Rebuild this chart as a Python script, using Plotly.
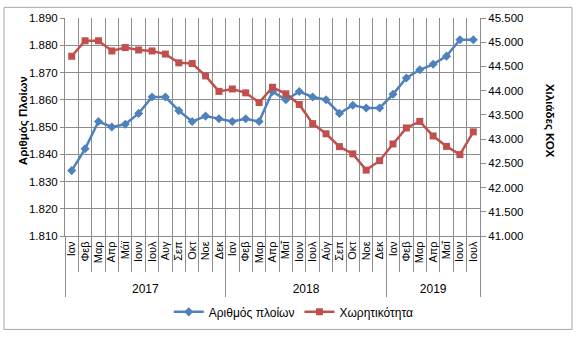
import plotly.graph_objects as go

# Monthly series, Jan 2017 - Jul 2019
months = ["Ιαν", "Φεβ", "Μαρ", "Απρ", "Μάι", "Ιουν", "Ιουλ", "Αυγ", "Σεπ", "Οκτ", "Νοε", "Δεκ",
          "Ιαν", "Φεβ", "Μαρ", "Απρ", "Μαΐ", "Ιουν", "Ιουλ", "Αύγ", "Σεπ", "Οκτ", "Νοε", "Δεκ",
          "Ιαν", "Φεβ", "Μαρ", "Απρ", "Μαΐ", "Ιουν", "Ιουλ"]
months[4] = "Μάϊ"
years = ["2017", "2018", "2019"]
months_per_year = [12, 12, 7]

ships = [1834, 1842, 1852, 1850, 1851, 1855, 1861, 1861, 1856, 1852, 1854, 1853,
         1852, 1853, 1852, 1863, 1860, 1863, 1861, 1860, 1855, 1858, 1857, 1857,
         1862, 1868, 1871, 1873, 1876, 1882, 1882]

capacity = [44710, 45030, 45030, 44820, 44890, 44840, 44820, 44755, 44575, 44560, 44305, 43985,
            44035, 43955, 43755, 44070, 43935, 43715, 43320, 43110, 42845, 42695, 42360, 42555,
            42900, 43230, 43365, 43065, 42850, 42680, 43150]

GRID = "#8c8c8c"
FONT = "Liberation Sans"

x = list(range(len(months)))
bounds = [i - 0.5 for i in range(len(months) + 1)]

# year group centres and separators
year_centres, year_bounds, start = [], [-0.5], 0
for n in months_per_year:
    year_centres.append(start + (n - 1) / 2)
    start += n
    year_bounds.append(start - 0.5)

fig = go.Figure()
fig.add_trace(go.Scatter(
    x=x, y=ships, name="Αριθμός πλοίων", mode="lines+markers",
    line=dict(color="#4F81BD", width=2.5),
    marker=dict(symbol="diamond", size=7, color="#4F81BD"),
    xaxis="x", yaxis="y"))
fig.add_trace(go.Scatter(
    x=x, y=capacity, name="Χωρητικότητα", mode="lines+markers",
    line=dict(color="#C0504D", width=2.5),
    marker=dict(symbol="square", size=7, color="#C0504D"),
    xaxis="x2", yaxis="y2"))

xr = [-0.5, len(months) - 0.5]

fig.update_layout(
    width=577, height=339,
    margin=dict(l=65, r=97, t=14, b=101),
    paper_bgcolor="white", plot_bgcolor="white",
    separators=",.",
    font=dict(family=FONT, size=11, color="#000000"),
    showlegend=True,
    legend=dict(orientation="h", x=0.25, xanchor="left", y=-0.348, yanchor="middle",
                font=dict(size=12), bgcolor="rgba(0,0,0,0)", tracegroupgap=0),
    xaxis=dict(
        range=xr, tickmode="array", tickvals=x, ticktext=months, tickangle=-90,
        ticks="", showgrid=False, showline=True, linecolor=GRID, linewidth=1,
        tickfont=dict(size=11), zeroline=False,
        minor=dict(tickmode="array", tickvals=bounds, ticks="outside", ticklen=35,
                   tickcolor=GRID, tickwidth=1, showgrid=True, gridcolor=GRID, gridwidth=1),
    ),
    xaxis2=dict(
        range=xr, overlaying="x", anchor="y", side="bottom",
        tickmode="array", tickvals=year_centres, ticktext=years, ticks="",
        ticklabelstandoff=44, tickfont=dict(size=12), showgrid=False, showline=False,
        zeroline=False,
        minor=dict(tickmode="array", tickvals=year_bounds, ticks="outside", ticklen=60,
                   tickcolor=GRID, tickwidth=1, showgrid=False),
    ),
    yaxis=dict(
        range=[1810, 1890], dtick=10, tick0=1810, tickformat=",d",
        showgrid=True, gridcolor=GRID, gridwidth=1, zeroline=False,
        showline=True, linecolor=GRID, ticks="outside", ticklen=4, tickcolor=GRID,
        tickfont=dict(size=11.5),
    ),
    yaxis2=dict(
        range=[41000, 45500], dtick=500, tick0=41000, tickformat=",d",
        overlaying="y", side="right", anchor="x",
        showgrid=False, zeroline=False, showline=True, linecolor=GRID,
        ticks="outside", ticklen=5, tickcolor=GRID, tickfont=dict(size=11.5),
    ),
    annotations=[
        dict(text="<b>Αριθμός Πλοίων</b>", xref="paper", yref="paper", x=-0.12, y=0.53,
             textangle=-90, showarrow=False, font=dict(size=11.5)),
        dict(text="<b>Χιλιάδες ΚΟΧ</b>", xref="paper", yref="paper", x=1.188, y=0.53,
             textangle=90, showarrow=False, font=dict(size=11.5)),
    ],
    shapes=[
        dict(type="rect", xref="paper", yref="paper", x0=-0.147, x1=1.2217,
             y0=-0.4286, y1=1.049, line=dict(color="#a6a6a6", width=1), layer="below"),
    ],
)

fig.write_html("out.html")
